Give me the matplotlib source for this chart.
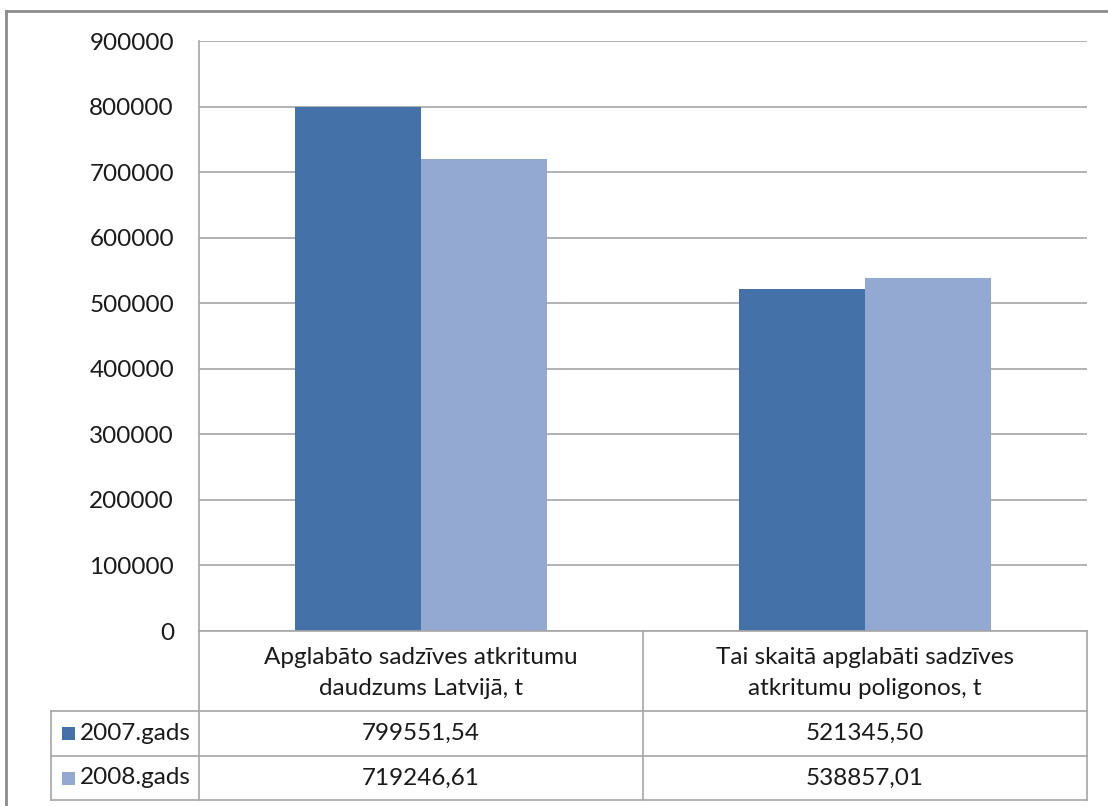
import matplotlib
matplotlib.use("Agg")
import matplotlib.pyplot as plt
from matplotlib.lines import Line2D
from matplotlib.patches import Rectangle

plt.rcParams["font.family"] = ["Lato", "DejaVu Sans"]

categories = ["Apglabāto sadzīves atkritumu\ndaudzums Latvijā, t",
              "Tai skaitā apglabāti sadzīves\natkritumu poligonos, t"]
series_names = ["2007.gads", "2008.gads"]
values_2007 = [799551.54, 521345.50]
values_2008 = [719246.61, 538857.01]
yticks = [0, 100000, 200000, 300000, 400000, 500000, 600000, 700000, 800000, 900000]

colors = ["#4471A7", "#94A9D1"]
grid_col = "#A6A6A6"
FS = 17.5

W, H = 1108, 806
fig = plt.figure(figsize=(W / 100, H / 100), dpi=100)

def fx(x):
    return x / W

def fy(y):
    return 1 - y / H

def hline(y, x0, x1, col=grid_col, lw=1.2):
    fig.add_artist(Line2D([fx(x0), fx(x1)], [fy(y), fy(y)], color=col, lw=lw))

def vline(x, y0, y1, col=grid_col, lw=1.2):
    fig.add_artist(Line2D([fx(x), fx(x)], [fy(y0), fy(y1)], color=col, lw=lw))

# plot area in pixels
L, R, T, B = 199, 1087, 41, 631
ax = fig.add_axes([fx(L), fy(B), fx(R) - fx(L), fy(T) - fy(B)])
ax.set_xlim(-0.5, len(categories) - 0.5)
ax.set_ylim(0, 900000)

bw = 0.284
xs = list(range(len(categories)))
ax.bar([x - bw / 2 for x in xs], values_2007, width=bw, color=colors[0], zorder=3)
ax.bar([x + bw / 2 for x in xs], values_2008, width=bw, color=colors[1], zorder=3)

for t in yticks:
    ax.axhline(t, color=grid_col, lw=1.2, zorder=1)
ax.set_yticks(yticks)
ax.set_yticklabels([str(t) for t in yticks], fontsize=FS, color="#1a1a1a")
ax.tick_params(axis="y", length=0, pad=18)
ax.set_xticks([])
for s in ["top", "right", "bottom"]:
    ax.spines[s].set_visible(False)
ax.spines["left"].set_color(grid_col)
ax.spines["left"].set_linewidth(1.2)

# data table below the plot
rows_y = [711, 756, 800]
tab_left, mid = 51, (L + R) / 2
hline(B, L, R)
for y in rows_y:
    hline(y, tab_left, R)
vline(L, B, rows_y[-1])
vline(mid, B, rows_y[-1])
vline(R, B, rows_y[-1])
vline(tab_left, rows_y[0], rows_y[-1])

col_centers = [(L + mid) / 2, (mid + R) / 2]
for cx, lab in zip(col_centers, categories):
    fig.text(fx(cx), fy((B + rows_y[0]) / 2 + 2), lab, ha="center", va="center",
             fontsize=FS, color="#1a1a1a", linespacing=1.55)

row_vals = [values_2007, values_2008]
for i, (name, vals) in enumerate(zip(series_names, row_vals)):
    y0, y1 = rows_y[i], rows_y[i + 1]
    yc = (y0 + y1) / 2
    fig.add_artist(Rectangle((fx(62), fy(yc + 6.5)), fx(13), 13 / H,
                             color=colors[i], lw=0))
    fig.text(fx(80), fy(yc), name, ha="left", va="center", fontsize=FS, color="#1a1a1a")
    for cx, v in zip(col_centers, vals):
        fig.text(fx(cx), fy(yc), f"{v:.2f}".replace(".", ","), ha="center", va="center",
                 fontsize=FS, color="#1a1a1a")

# outer chart frame (clipped on right/bottom)
frame_col = "#8C8C8C"
hline(11, 6, W + 5, col=frame_col, lw=2)
vline(6, 11, H + 5, col=frame_col, lw=2)

fig.savefig("out.png", dpi=100)
